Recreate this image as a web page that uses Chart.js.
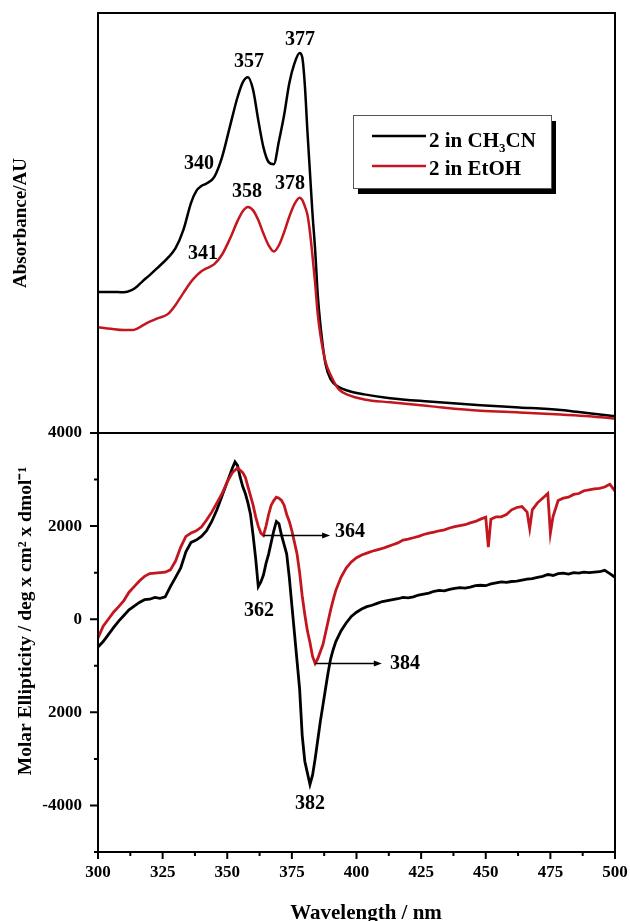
<!DOCTYPE html>
<html>
<head>
<meta charset="utf-8">
<script src="https://cdn.jsdelivr.net/npm/chart.js@4.4.0/dist/chart.umd.min.js"></script>
<style>
  html, body { margin: 0; padding: 0; background: #fff; }
  #wrap { position: relative; width: 630px; height: 921px; overflow: hidden; }
  #absChart { position: absolute; left: 0; top: 0; }
  #cdChart { position: absolute; left: 0; top: 420px; }
</style>
</head>
<body>
<div id="wrap">
  <canvas id="absChart" width="630" height="440"></canvas>
  <canvas id="cdChart" width="630" height="506"></canvas>
</div>
<script>
// ---- absorbance (top panel) ----
var absWavelength = [300, 305, 310, 313, 315, 317, 320, 323, 327, 330, 333, 336, 338, 340, 342, 345, 348, 351, 354, 356,
                     358, 360, 362, 364, 366, 368, 370, 372, 374, 376, 378, 379, 380, 381, 382, 383, 384, 385, 386, 388,
                     390, 393, 397, 403, 413, 428, 448, 463, 479, 490, 500];
var absCH3CN = [0.336, 0.336, 0.335, 0.340, 0.348, 0.360, 0.376, 0.393, 0.417, 0.440, 0.483, 0.548, 0.576, 0.588, 0.594, 0.610, 0.657, 0.729, 0.800, 0.835,
                0.847, 0.817, 0.745, 0.680, 0.645, 0.640, 0.695, 0.757, 0.833, 0.880, 0.905, 0.895, 0.830, 0.720, 0.620, 0.520, 0.436, 0.330, 0.260, 0.165,
                0.128, 0.110, 0.100, 0.092, 0.083, 0.075, 0.066, 0.061, 0.055, 0.047, 0.040];
var absEtOH  = [0.252, 0.248, 0.245, 0.245, 0.248, 0.255, 0.265, 0.273, 0.283, 0.305, 0.333, 0.360, 0.374, 0.385, 0.392, 0.402, 0.425, 0.462, 0.505, 0.528,
                0.538, 0.530, 0.507, 0.475, 0.447, 0.432, 0.447, 0.478, 0.515, 0.545, 0.560, 0.555, 0.540, 0.520, 0.478, 0.420, 0.357, 0.283, 0.235, 0.170,
                0.138, 0.105, 0.090, 0.080, 0.073, 0.064, 0.053, 0.049, 0.044, 0.040, 0.034];

// ---- CD (bottom panel) ----
var cdWavelength = [300, 302, 304, 306, 308, 310, 312, 314, 316, 318, 320, 322, 324, 326, 328, 330, 332, 334, 336, 338,
                    340, 342, 344, 346, 348, 350, 352, 353, 354, 355, 356, 357, 358, 359, 360, 361, 362, 363, 364, 365,
                    366, 367, 368, 369, 370, 371, 372, 373, 374, 375, 376, 377, 378, 379, 380, 381, 382, 383, 384, 385,
                    386, 387, 388, 389, 390, 391, 392, 394, 396, 398, 400, 402, 404, 406, 408, 410, 412, 414, 416, 418,
                    420, 422, 424, 426, 428, 430, 432, 434, 436, 438, 440, 442, 444, 446, 448, 450, 451, 452, 454, 456,
                    458, 460, 462, 464, 466, 467, 468, 470, 472, 474, 475, 476, 478, 480, 482, 484, 486, 488, 490, 492,
                    494, 496, 498, 500];
var cdCH3CN = [-600, -480, -330, -180, -40, 80, 200, 280, 360, 420, 430, 470, 450, 480, 700, 900, 1100, 1450, 1650, 1700,
               1780, 1900, 2100, 2350, 2650, 2950, 3250, 3380, 3300, 3050, 2850, 2700, 2500, 2250, 1800, 1300, 700, 800, 950, 1200,
               1400, 1650, 1900, 2100, 2050, 1800, 1600, 1400, 900, 300, -300, -900, -1500, -2500, -3050, -3300, -3550, -3350, -3000, -2600,
               -2200, -1850, -1500, -1150, -850, -650, -480, -250, -80, 60, 150, 220, 270, 300, 340, 380, 400, 420, 440, 470,
               460, 480, 520, 540, 560, 600, 620, 610, 640, 660, 680, 670, 690, 720, 730, 720, 740, 760, 780, 800,
               790, 810, 820, 840, 860, 865, 870, 900, 920, 960, 950, 940, 980, 990, 970, 1000, 990, 1010, 1000, 1010,
               1020, 1050, 980, 900];
var cdEtOH = [-400, -150, 0, 150, 270, 400, 580, 700, 820, 920, 980, 990, 1000, 1010, 1060, 1250, 1550, 1780, 1850, 1900,
              1980, 2130, 2300, 2500, 2700, 2950, 3150, 3200, 3250, 3200, 3150, 3050, 2850, 2650, 2450, 2200, 2000, 1850, 1800, 2000,
              2250, 2450, 2550, 2620, 2600, 2550, 2450, 2250, 2100, 1900, 1650, 1400, 1000, 500, 100, -250, -500, -800, -950, -850,
              -700, -550, -300, -50, 200, 420, 620, 900, 1100, 1230, 1320, 1380, 1420, 1460, 1490, 1520, 1560, 1600, 1640, 1700,
              1720, 1750, 1780, 1820, 1850, 1870, 1900, 1920, 1960, 1990, 2010, 2030, 2070, 2100, 2150, 2190, 1550, 2150, 2200, 2200,
              2250, 2350, 2400, 2420, 2300, 1950, 2350, 2500, 2600, 2700, 1850, 2200, 2550, 2600, 2620, 2680, 2700, 2760, 2780, 2800,
              2810, 2840, 2900, 2750];

// tick labels
var wavelengthLabels = [300, 325, 350, 375, 400, 425, 450, 475, 500];
var cdLabelValues = [4000, 2000, 0, -2000, -4000];
var cdLabelText   = ['4000', '2000', '0', '2000', '-4000'];

// peak annotations [wavelength, value, text]
var absPeaks = [[378.1, 0.936, '377'], [358.4, 0.883, '357'], [339.1, 0.640, '340'],
                [357.6, 0.574, '358'], [374.3, 0.593, '378'], [340.6, 0.426, '341']];
var cdPeaks  = [[362.3, 170, '362'], [382, -3960, '382'], [397.5, 1870, '364'], [418.8, -950, '384']];
var cdArrows = [[364, 1800, 389.8], [384, -950, 409.8]];

var RED = '#c3161e';
var SERIF = '"Liberation Serif", "Times New Roman", serif';

function pts(xs, ys) {
    return xs.map(function(x, i) { return {x: x, y: ys[i]}; });
}

// keep the plot areas fixed so both panels line up
function fixWidth(s) { s.width = 98; s.paddingTop = 0; s.paddingBottom = 0; }
function fixHeight(s) { s.height = 74; s.paddingLeft = 0; s.paddingRight = 0; }

var framePlugin = {
    id: 'frame',
    afterDraw: function(chart) {
        var ctx = chart.ctx, a = chart.chartArea;
        ctx.save();
        ctx.strokeStyle = '#000';
        ctx.lineWidth = 2;
        ctx.strokeRect(a.left, a.top, a.right - a.left, a.bottom - a.top);
        ctx.restore();
    }
};

function drawTexts(chart, list) {
    var ctx = chart.ctx, xs = chart.scales.x, ys = chart.scales.y;
    ctx.save();
    ctx.fillStyle = '#000';
    ctx.font = 'bold 20px ' + SERIF;
    ctx.textAlign = 'center';
    ctx.textBaseline = 'middle';
    list.forEach(function(p) {
        ctx.fillText(p[2], xs.getPixelForValue(p[0]), ys.getPixelForValue(p[1]));
    });
    ctx.restore();
}

var absAnnotations = {
    id: 'absAnnotations',
    afterDraw: function(chart) {
        drawTexts(chart, absPeaks);

        // legend box
        var ctx = chart.ctx, a = chart.chartArea;
        var bx = a.left + 255, by = a.top + 102, bw = 198, bh = 73;
        ctx.save();
        ctx.fillStyle = '#000';
        ctx.fillRect(bx + 5, by + 6, bw, bh);
        ctx.fillStyle = '#fff';
        ctx.fillRect(bx, by, bw, bh);
        ctx.strokeStyle = '#555';
        ctx.lineWidth = 1;
        ctx.strokeRect(bx + 0.5, by + 0.5, bw, bh);

        ctx.lineWidth = 2.5;
        ctx.strokeStyle = '#000';
        ctx.beginPath(); ctx.moveTo(bx + 19, by + 21); ctx.lineTo(bx + 73, by + 21); ctx.stroke();
        ctx.strokeStyle = RED;
        ctx.beginPath(); ctx.moveTo(bx + 19, by + 51); ctx.lineTo(bx + 73, by + 51); ctx.stroke();

        ctx.fillStyle = '#000';
        ctx.textBaseline = 'alphabetic';
        ctx.textAlign = 'left';
        ctx.font = 'bold 21px ' + SERIF;
        var tx = bx + 76, t1 = by + 32;
        ctx.fillText('2 in CH', tx, t1);
        var w = ctx.measureText('2 in CH').width;
        ctx.font = 'bold 13px ' + SERIF;
        ctx.fillText('3', tx + w, t1 + 5);
        var w3 = ctx.measureText('3').width;
        ctx.font = 'bold 21px ' + SERIF;
        ctx.fillText('CN', tx + w + w3, t1);
        ctx.fillText('2 in EtOH', tx, by + 60);
        ctx.restore();
    }
};

var cdAnnotations = {
    id: 'cdAnnotations',
    afterDraw: function(chart) {
        var ctx = chart.ctx, a = chart.chartArea, xs = chart.scales.x, ys = chart.scales.y;
        drawTexts(chart, cdPeaks);

        ctx.save();
        ctx.strokeStyle = '#000';
        ctx.fillStyle = '#000';
        ctx.lineWidth = 1.5;
        cdArrows.forEach(function(r) {
            var x1 = xs.getPixelForValue(r[0]), x2 = xs.getPixelForValue(r[2]), y = ys.getPixelForValue(r[1]);
            ctx.beginPath(); ctx.moveTo(x1, y); ctx.lineTo(x2 - 6, y); ctx.stroke();
            ctx.beginPath(); ctx.moveTo(x2, y); ctx.lineTo(x2 - 8, y - 3); ctx.lineTo(x2 - 8, y + 3); ctx.closePath(); ctx.fill();
        });

        // outward tick marks, long for labelled ticks
        ctx.lineWidth = 2;
        ctx.beginPath();
        xs.ticks.forEach(function(t) {
            var px = xs.getPixelForValue(t.value), len = t.label ? 7 : 4;
            ctx.moveTo(px, a.bottom); ctx.lineTo(px, a.bottom + len);
        });
        ys.ticks.forEach(function(t) {
            var py = ys.getPixelForValue(t.value), len = t.label ? 8 : 4;
            ctx.moveTo(a.left, py); ctx.lineTo(a.left - len, py);
        });
        ctx.stroke();

        // axis titles (slightly off-centre in the original figure)
        ctx.textAlign = 'center';
        ctx.textBaseline = 'alphabetic';
        ctx.font = 'bold 21px ' + SERIF;
        ctx.fillText('Wavelength / nm', a.left + 268, a.bottom + 67);
        ctx.translate(31, a.top + 188);
        ctx.rotate(-Math.PI / 2);
        ctx.font = 'bold 19.5px ' + SERIF;
        ctx.fillText('Molar Ellipticity / deg x cm\u00b2 x dmol\u207b\u00b9', 0, 0);
        ctx.restore();
    }
};

var tickFont = {family: SERIF, size: 17, weight: 'bold'};

new Chart(document.getElementById('absChart').getContext('2d'), {
    type: 'line',
    data: {
        datasets: [
            {label: '2 in EtOH', data: pts(absWavelength, absEtOH), borderColor: RED, borderWidth: 2.5, cubicInterpolationMode: 'monotone'},
            {label: '2 in CH3CN', data: pts(absWavelength, absCH3CN), borderColor: '#000', borderWidth: 2.5, cubicInterpolationMode: 'monotone'}
        ]
    },
    options: {
        responsive: false,
        animation: false,
        layout: {padding: {top: 13, right: 15, bottom: 7, left: 0}},
        elements: {point: {radius: 0}},
        plugins: {legend: {display: false}, tooltip: {enabled: false}},
        scales: {
            x: {type: 'linear', min: 300, max: 500, display: false},
            y: {
                min: 0, max: 1,
                afterFit: fixWidth,
                ticks: {display: false},
                grid: {display: false},
                border: {display: false},
                title: {display: true, text: 'Absorbance/AU', color: '#000', padding: {top: 10},
                        font: {family: SERIF, size: 19, weight: 'bold'}}
            }
        }
    },
    plugins: [framePlugin, absAnnotations]
});

new Chart(document.getElementById('cdChart').getContext('2d'), {
    type: 'line',
    data: {
        datasets: [
            {label: '2 in EtOH', data: pts(cdWavelength, cdEtOH), borderColor: RED, borderWidth: 2.8, tension: 0},
            {label: '2 in CH3CN', data: pts(cdWavelength, cdCH3CN), borderColor: '#000', borderWidth: 2.8, tension: 0}
        ]
    },
    options: {
        responsive: false,
        animation: false,
        layout: {padding: {top: 13, right: 15, bottom: 0, left: 0}},
        elements: {point: {radius: 0}},
        plugins: {legend: {display: false}, tooltip: {enabled: false}},
        scales: {
            x: {
                type: 'linear', min: 300, max: 500,
                afterFit: fixHeight,
                grid: {display: false, drawTicks: false},
                border: {display: false},
                ticks: {
                    stepSize: 12.5, autoSkip: false, maxRotation: 0, padding: 10, color: '#000', font: tickFont,
                    callback: function(v) { return wavelengthLabels.indexOf(v) >= 0 ? String(v) : ''; }
                }
            },
            y: {
                min: -5000, max: 4000,
                afterFit: fixWidth,
                grid: {display: false, drawTicks: false},
                border: {display: false},
                ticks: {
                    stepSize: 1000, autoSkip: false, padding: 16, color: '#000', font: tickFont,
                    callback: function(v) { var i = cdLabelValues.indexOf(v); return i >= 0 ? cdLabelText[i] : ''; }
                }
            }
        }
    },
    plugins: [framePlugin, cdAnnotations]
});
</script>
</body>
</html>
